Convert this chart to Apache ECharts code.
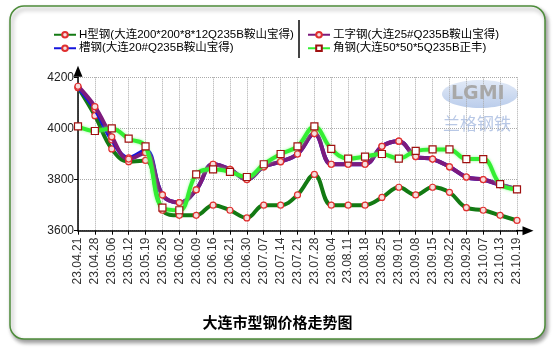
<!DOCTYPE html>
<html>
<head>
<meta charset="utf-8">
<script src="https://cdn.jsdelivr.net/npm/echarts@6/dist/echarts.min.js"></script>
<style>
html,body{margin:0;padding:0;background:#fff;}
#chart{width:555px;height:351px;}
</style>
</head>
<body>
<div id="chart"></div>
<script>
var categories = ['23.04.21','23.04.28','23.05.06','23.05.12','23.05.19','23.05.26','23.06.02','23.06.09','23.06.16','23.06.21','23.06.30','23.07.07','23.07.14','23.07.21','23.07.28','23.08.04','23.08.11','23.08.18','23.08.25','23.09.01','23.09.08','23.09.15','23.09.22','23.09.28','23.10.07','23.10.13','23.10.19'];
var seriesNames = ['H型钢(大连200*200*8*12Q235B鞍山宝得)','槽钢(大连20#Q235B鞍山宝得)','工字钢(大连25#Q235B鞍山宝得)','角钢(大连50*50*5Q235B正丰)'];
var hBeam   = [4160,4050,3920,3870,3875,3680,3660,3660,3700,3680,3650,3700,3700,3740,3820,3700,3700,3700,3730,3770,3740,3770,3750,3690,3680,3660,3640];
var channel = [4160,4075,3955,3885,3915,3740,3710,3760,3860,3840,3800,3850,3870,3900,3980,3860,3860,3860,3930,3950,3890,3880,3850,3810,3800,3780,3762];
var iBeam   = [4165,4085,3967,3880,3905,3740,3710,3760,3860,3840,3800,3850,3870,3900,3980,3860,3860,3860,3930,3950,3890,3880,3850,3810,3800,3780,3762];
var angle   = [4008,3990,4000,3960,3930,3690,3680,3820,3840,3830,3810,3860,3900,3930,4008,3920,3882,3890,3900,3882,3912,3918,3918,3880,3880,3782,3762];
var yTicks = {min:3600, max:4200, interval:200};

var FONT = '"Liberation Sans","Noto Sans CJK SC",sans-serif';
var chart = echarts.init(document.getElementById('chart'));

function lineSeries(name, data, color, symbol, size, fill, border, z, glow){
  return {
    name:name, type:'line', data:data, smooth:0.4, z:z,
    symbol:symbol, symbolSize:size, showSymbol:true,
    lineStyle:{color:color, width:4, shadowBlur: glow?3:0, shadowColor: glow?'rgba(120,255,120,0.8)':'transparent'},
    itemStyle:{color:fill, borderColor:border, borderWidth:1.2},
    emphasis:{disabled:true}
  };
}

var legendText = {fontSize:11.5, color:'#000', fontFamily:FONT, padding:[0,0,0,-2]};
var option = {
  animation:false,
  textStyle:{fontFamily:FONT},
  title:{text:'大连市型钢价格走势图', left:'center', top:311,
    textStyle:{fontSize:15, fontWeight:'bold', color:'#000', fontFamily:FONT}},
  legend:[
    {data:[seriesNames[0], seriesNames[1]], orient:'vertical', left:48, top:24, itemGap:2,
     itemWidth:22, itemHeight:7, textStyle:legendText},
    {data:[seriesNames[2], seriesNames[3]], orient:'vertical', left:302, top:24, itemGap:2,
     itemWidth:22, itemHeight:7, textStyle:legendText}
  ],
  grid:{left:78, right:38, top:77.3, bottom:120.3, containLabel:false},
  xAxis:{
    type:'category', data:categories, boundaryGap:false,
    axisLine:{lineStyle:{color:'#000', width:1.5}, symbol:['none','triangle'], symbolSize:[9,11], symbolOffset:[0,11]},
    axisTick:{show:true, length:4, interval:0, lineStyle:{color:'#000'}},
    axisLabel:{rotate:90, interval:0, fontSize:12, color:'#333', margin:7, fontFamily:FONT},
    splitLine:{show:true, interval:0, lineStyle:{color:'#aaa', type:'dotted', width:1}}
  },
  yAxis:{
    type:'value', min:yTicks.min, max:yTicks.max, interval:yTicks.interval,
    axisLine:{show:true, lineStyle:{color:'#000', width:1.5}, symbol:['none','triangle'], symbolSize:[9,11], symbolOffset:[0,6]},
    axisTick:{show:true, length:4, lineStyle:{color:'#000'}},
    axisLabel:{fontSize:12, color:'#222', margin:4, fontFamily:FONT, formatter:function(v){return String(v);}},
    splitLine:{show:true, lineStyle:{color:'#aaa', type:'dotted', width:1}}
  },
  graphic:[
    {type:'rect', z:-100, shape:{x:10, y:6, width:535, height:333, r:14},
     style:{fill:'#fff', stroke:'#4d8c3a', lineWidth:1.5, shadowBlur:4, shadowOffsetX:2, shadowOffsetY:3, shadowColor:'rgba(0,0,0,0.4)'}},
    {type:'line', z:10, shape:{x1:299, y1:20, x2:299, y2:58}, style:{stroke:'#444', lineWidth:2}},
    {type:'line', z:10, shape:{x1:516, y1:230.7, x2:524, y2:230.7}, style:{stroke:'#000', lineWidth:1.5}},
    {type:'ellipse', z:-50, shape:{cx:480, cy:94, rx:38, ry:14},
     style:{fill:new echarts.graphic.LinearGradient(0,0,0,1,[{offset:0,color:'#dbe5f5'},{offset:1,color:'#a9c0e6'}]), opacity:0.8}},
    {type:'text', z:-40, left:451, top:85, style:{text:'LGMI', fontSize:19, fontWeight:'bold', fill:'#a8a8a8', fontFamily:'"DejaVu Sans",sans-serif'}},
    {type:'text', z:-40, left:443, top:115, style:{text:'兰格钢铁', fontSize:17, fill:'#b8c8e6', fontFamily:'"Noto Sans CJK SC",sans-serif'}}
  ],
  series:[
    lineSeries(seriesNames[0], hBeam, '#137a13', 'circle', 6, '#f6dede', '#e03030', 2, false),
    lineSeries(seriesNames[1], channel, '#1515dd', 'circle', 6, '#f6dede', '#e03030', 3, false),
    lineSeries(seriesNames[2], iBeam, '#7d1a7d', 'circle', 6, '#f6dede', '#e03030', 4, false),
    lineSeries(seriesNames[3], angle, '#33ee33', 'rect', 7, '#ffffff', '#a01010', 5, true)
  ]
};
chart.setOption(option);
</script>
</body>
</html>
